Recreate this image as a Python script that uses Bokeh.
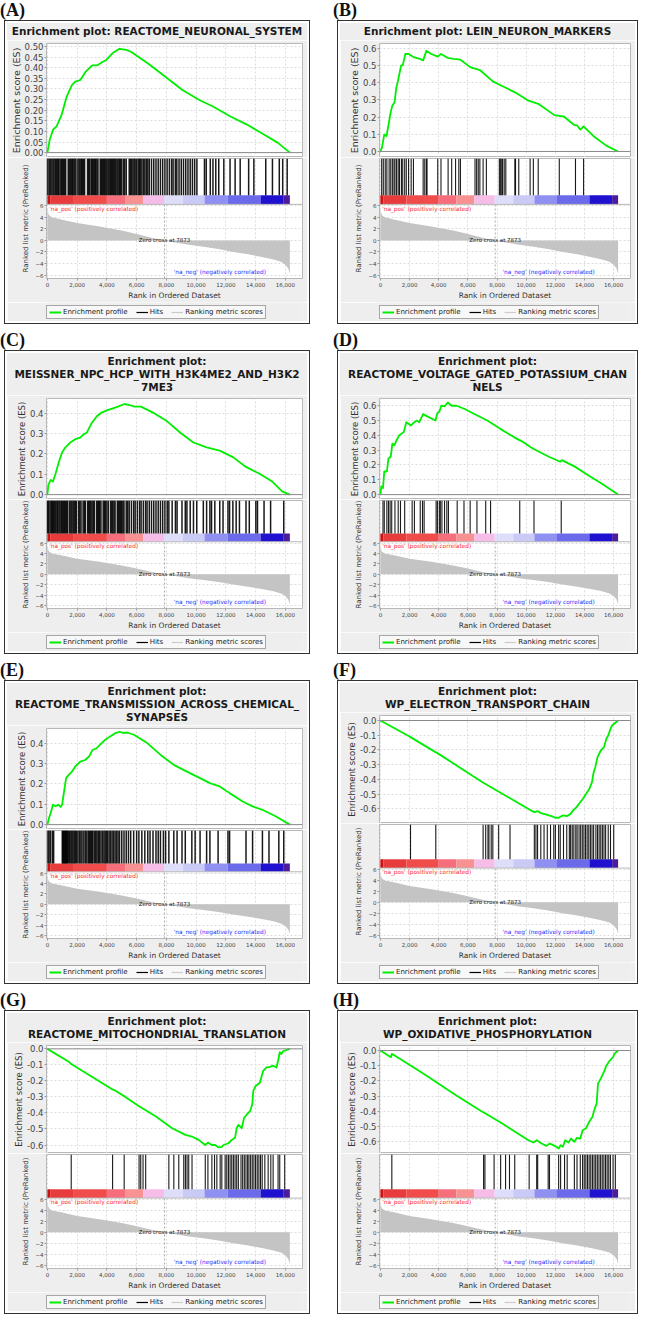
from bokeh.plotting import figure
from bokeh.models import (Range1d, FixedTicker, SingleIntervalTicker, NumeralTickFormatter,
                          Span, Legend, LegendItem, Div)
from bokeh.layouts import column, row
from bokeh.core.properties import value
from bokeh.embed import file_html
from bokeh.resources import INLINE

# ------------------------------------------------------------------ data
N_GENES = 16300
ZERO_CROSS = 7873
x_ticks = [0, 2000, 4000, 6000, 8000, 10000, 12000, 14000, 16000]
rank_ticks = [-6, -4, -2, 0, 2, 4, 6]

# ranked list metric (same dataset for every panel)
rank_x = [0, 30, 100, 300, 1000, 2000, 3500, 5000, 6000, 7000, 7873, 8500, 9500, 10500,
          11500, 12500, 13500, 14500, 15200, 15700, 16000, 16200, 16300]
rank_y = [5.8, 5.0, 4.4, 4.0, 3.6, 3.0, 2.4, 1.7, 1.1, 0.45, 0.0, -0.3, -0.75, -1.1,
          -1.5, -2.0, -2.4, -2.9, -3.3, -3.7, -4.2, -4.9, -5.8]

# heat bar under the hits
cb_start = [0, 220, 1780, 4000, 5220, 6440, 7840, 9110, 10560, 12110, 14330, 15890]
cb_end = [220, 1780, 4000, 5220, 6440, 7840, 9110, 10560, 12110, 14330, 15890, 16300]
cb_color = ["#d01010", "#e83c3c", "#f04c4c", "#f66e7c", "#f89292", "#f6bde8",
            "#dedefa", "#cacaf6", "#9090f2", "#6a6aea", "#2010d0", "#4c1c9c"]

# ---- panel A
titles_a = ["Enrichment plot: REACTOME_NEURONAL_SYSTEM"]
es_a_x = [0, 160, 390, 617, 960, 1300, 1646, 1874, 2217, 2560, 3017, 3360, 3703, 3932, 4389,
          4846, 5303, 5646, 6789, 7932, 9075, 10218, 11133, 12276, 13419, 14562, 15476, 16300]
es_a_y = [0, 0.062, 0.109, 0.124, 0.179, 0.264, 0.318, 0.334, 0.342, 0.38, 0.411, 0.411, 0.427,
          0.435, 0.469, 0.489, 0.484, 0.474, 0.419, 0.357, 0.295, 0.248, 0.217, 0.171, 0.132,
          0.085, 0.047, 0]
hits_a = [30, 120, 200, 300, 380, 450, 540, 620, 700, 760, 850, 930, 1000, 1080, 1150, 1230,
          1400, 1480, 1560, 1640, 1700, 1780, 1850, 1920, 2050, 2130, 2200, 2280, 2350, 2430,
          2500, 2700, 2780, 2850, 2950, 3020, 3100, 3180, 3250, 3330, 3400, 3550, 3620, 3700,
          3780, 3850, 3930, 4000, 4080, 4150, 4230, 4300, 4380, 4450, 4530, 4600, 4680, 4750,
          4830, 4900, 4980, 5100, 5200, 5300, 5500, 5580, 5660, 5750, 5830, 5900, 6000, 6100,
          6180, 6250, 6350, 6450, 6550, 6650, 6750, 6850, 7000, 7150, 7300, 7450, 7600, 7750,
          7900, 8050, 8200, 8350, 8450, 8600, 8700, 8850, 9000, 9150, 9300, 9450, 9600, 9750,
          9900, 10050, 10560, 10680, 10950, 11130, 11320, 11520, 11860, 12280, 12620, 12960,
          13530, 13880, 14680, 15130, 15590, 15820, 16120]

# ---- panel B
titles_b = ["Enrichment plot: LEIN_NEURON_MARKERS"]
es_b_x = [0, 111, 267, 422, 600, 711, 822, 978, 1089, 1200, 1311, 1422, 1533, 1711, 1933, 2267,
          2711, 2933, 3155, 3489, 3933, 4156, 4600, 5044, 5489, 6156, 6822, 7711, 8378, 9267,
          10156, 10822, 11933, 12600, 13267, 13489, 13711, 13933, 14600, 15489, 16300]
es_b_y = [0, 0.024, 0.099, 0.09, 0.174, 0.23, 0.267, 0.286, 0.37, 0.407, 0.454, 0.5, 0.5, 0.566,
          0.566, 0.548, 0.538, 0.529, 0.585, 0.566, 0.551, 0.566, 0.544, 0.538, 0.533, 0.49,
          0.473, 0.407, 0.379, 0.342, 0.295, 0.277, 0.211, 0.202, 0.155, 0.151, 0.127, 0.146,
          0.09, 0.034, 0]
hits_b = [89, 200, 333, 444, 600, 711, 822, 933, 1000, 1111, 1222, 1311, 1444, 1533, 1667, 1778,
          1933, 2111, 2267, 2933, 3044, 3156, 3200, 3933, 4156, 4644, 4889, 5156, 5378, 5489,
          6489, 6600, 6711, 6822, 7044, 7267, 8156, 8222, 8289, 8378, 8489, 8600, 9222, 9267,
          9489, 10267, 10489, 10822, 12267, 13378, 13933]

# ---- panel C
titles_c = ["Enrichment plot:", "MEISSNER_NPC_HCP_WITH_H3K4ME2_AND_H3K2", "7ME3"]
es_c_x = [0, 66, 221, 375, 552, 772, 993, 1214, 1545, 1876, 2207, 2428, 2648, 2980, 3311, 3642,
          4083, 4414, 4745, 5186, 5517, 5849, 6290, 7173, 8056, 8938, 9821, 10704, 11587,
          12469, 13352, 14234, 15117, 15780, 16300]
es_c_y = [0, 0.048, 0.072, 0.064, 0.104, 0.16, 0.208, 0.232, 0.256, 0.272, 0.28, 0.296, 0.304,
          0.352, 0.384, 0.403, 0.416, 0.424, 0.432, 0.445, 0.44, 0.432, 0.432, 0.4, 0.36, 0.304,
          0.256, 0.232, 0.216, 0.184, 0.136, 0.104, 0.064, 0.016, 0]
hits_c = [20, 90, 180, 260, 330, 400, 470, 560, 640, 700, 780, 850, 930, 1000, 1080, 1150, 1220,
          1300, 1370, 1500, 1580, 1650, 1730, 1800, 1880, 1950, 2100, 2180, 2260, 2400, 2480,
          2550, 2700, 2780, 2850, 2920, 3000, 3080, 3150, 3300, 3380, 3450, 3520, 3600, 3750,
          3830, 3900, 4000, 4100, 4250, 4330, 4400, 4480, 4550, 4700, 4780, 4850, 4930, 5000,
          5080, 5150, 5300, 5400, 5500, 5650, 5800, 5900, 6050, 6200, 6300, 6450, 6600, 6700,
          6850, 7000, 7150, 7300, 7450, 7600, 7750, 7900, 8056, 8166, 8387, 8607, 8718, 9049,
          9270, 9380, 9601, 9821, 10042, 10483, 10704, 10925, 11035, 11256, 11587, 11808,
          12139, 12249, 12469, 12690, 12911, 13352, 13573, 14014, 14124, 14565, 15006, 15890]

# ---- panel D
titles_d = ["Enrichment plot:", "REACTOME_VOLTAGE_GATED_POTASSIUM_CHAN", "NELS"]
es_d_x = [0, 67, 178, 267, 444, 556, 711, 822, 956, 1111, 1289, 1444, 1600, 1778, 2111, 2267,
          2489, 2667, 2933, 3111, 3778, 3911, 4044, 4178, 4400, 4622, 4889, 5222, 5778, 6444,
          7333, 8222, 9333, 9778, 10444, 11556, 12333, 12444, 13333, 14222, 15111, 16300]
es_d_y = [0, 0.056, 0.044, 0.156, 0.156, 0.244, 0.256, 0.344, 0.333, 0.367, 0.4, 0.411, 0.422,
          0.489, 0.467, 0.484, 0.5, 0.489, 0.544, 0.533, 0.5, 0.551, 0.56, 0.6, 0.596, 0.622,
          0.6, 0.6, 0.578, 0.544, 0.5, 0.444, 0.378, 0.356, 0.311, 0.256, 0.222, 0.233, 0.189,
          0.133, 0.078, 0]
hits_d = [178, 267, 444, 556, 667, 778, 1000, 1222, 1378, 1667, 2178, 2333, 2733, 2889, 3000,
          3822, 3911, 4044, 4111, 4222, 4400, 4556, 4667, 5267, 5733, 6156, 6622, 7222, 7556,
          9556, 10533, 12400]

# ---- panel E
titles_e = ["Enrichment plot:", "REACTOME_TRANSMISSION_ACROSS_CHEMICAL_", "SYNAPSES"]
es_e_x = [0, 110, 221, 375, 552, 728, 883, 993, 1104, 1258, 1435, 1655, 1876, 2207, 2538, 2803,
          3024, 3311, 3531, 3862, 4193, 4524, 4855, 5076, 5407, 5849, 6731, 7614, 8497, 9380,
          10263, 10925, 11587, 12249, 13132, 13794, 14456, 15339, 16300]
es_e_y = [0, 0.033, 0.057, 0.098, 0.09, 0.098, 0.087, 0.098, 0.155, 0.229, 0.245, 0.261, 0.286,
          0.31, 0.318, 0.335, 0.367, 0.376, 0.392, 0.416, 0.433, 0.449, 0.457, 0.452, 0.452,
          0.441, 0.4, 0.343, 0.294, 0.261, 0.229, 0.204, 0.188, 0.155, 0.114, 0.09, 0.073,
          0.041, 0]
hits_e = [40, 110, 200, 330, 420, 1000, 1050, 1100, 1150, 1200, 1250, 1300, 1350, 1420, 1500,
          1580, 1650, 1720, 1800, 1870, 1950, 2050, 2150, 2250, 2330, 2450, 2550, 2650, 2750,
          2830, 2900, 2980, 3050, 3150, 3250, 3330, 3420, 3500, 3600, 3700, 3800, 3880, 3960,
          4050, 4150, 4250, 4350, 4450, 4550, 4650, 4750, 4850, 5000, 5150, 5300, 5450, 5600,
          5800, 6000, 6150, 6350, 6550, 6750, 6900, 7100, 7300, 7450, 7600, 7800, 7945, 8166,
          8497, 8718, 9049, 9270, 9711, 9932, 10263, 10704, 10925, 11476, 12139, 12249, 13352,
          13794, 14456, 14897, 15559, 15890]

# ---- panel F
titles_f = ["Enrichment plot:", "WP_ELECTRON_TRANSPORT_CHAIN"]
es_f_x = [0, 2000, 2067, 3778, 3889, 7000, 8778, 10333, 10556, 10778, 11000, 11333, 11556,
          11778, 12000, 12222, 12378, 12556, 12778, 13000, 13222, 13444, 13667, 13889, 14111,
          14333, 14511, 14600, 14733, 14889, 15111, 15333, 15489, 15622, 15778, 15889, 16300]
es_f_y = [0, -0.109, -0.113, -0.215, -0.22, -0.419, -0.521, -0.611, -0.623, -0.616, -0.629,
          -0.638, -0.645, -0.652, -0.661, -0.661, -0.652, -0.645, -0.65, -0.638, -0.611, -0.589,
          -0.561, -0.532, -0.498, -0.464, -0.419, -0.362, -0.317, -0.249, -0.204, -0.181,
          -0.125, -0.102, -0.057, -0.034, 0]
hits_f = [2067, 3800, 7044, 7222, 7378, 7444, 7600, 7711, 8111, 8889, 10556, 10667, 10778,
          11000, 11222, 11444, 11667, 11889, 12000, 12222, 12333, 12556, 12778, 12956, 13044,
          13156, 13267, 13400, 13489, 13622, 13733, 13844, 13956, 14067, 14178, 14289, 14400,
          14511, 14622, 14778, 14889, 15000, 15111, 15222, 15333, 15444, 15622, 15778, 16000]

# ---- panel G
titles_g = ["Enrichment plot:", "REACTOME_MITOCHONDRIAL_TRANSLATION"]
es_g_x = [0, 1491, 1602, 4383, 4495, 5162, 6163, 7276, 8388, 9278, 9723, 10168, 10613, 10791,
          11058, 11281, 11503, 11726, 11837, 12171, 12393, 12616, 12727, 12838, 13061, 13217,
          13395, 13617, 13773, 13840, 13995, 14285, 14507, 14730, 14952, 15175, 15397, 15508,
          15620, 15731, 15842, 16300]
es_g_y = [0, -0.084, -0.095, -0.253, -0.257, -0.295, -0.358, -0.421, -0.495, -0.537, -0.547,
          -0.568, -0.6, -0.585, -0.6, -0.6, -0.615, -0.611, -0.6, -0.589, -0.568, -0.554,
          -0.495, -0.474, -0.495, -0.432, -0.411, -0.389, -0.347, -0.263, -0.232, -0.211,
          -0.137, -0.116, -0.112, -0.105, -0.116, -0.074, -0.021, -0.032, -0.015, 0]
hits_g = [1602, 4383, 5162, 6163, 6275, 6430, 6608, 8166, 8500, 8833, 9167, 9278, 9390, 9501,
          9723, 10613, 10791, 11058, 11236, 11392, 11615, 11726, 11949, 12060, 12171, 12282,
          12393, 12505, 12616, 12727, 12838, 13016, 13128, 13239, 13350, 13461, 13550, 13662,
          13773, 13884, 13995, 14107, 14218, 14329, 14440, 14618, 14841, 15019, 15175, 15508,
          15620, 15953]

# ---- panel H
titles_h = ["Enrichment plot:", "WP_OXIDATIVE_PHOSPHORYLATION"]
es_h_x = [0, 719, 787, 899, 2966, 5213, 7011, 7236, 8359, 9258, 10157, 10494, 10719, 11055,
          11392, 11617, 11842, 12066, 12224, 12358, 12516, 12673, 12898, 13078, 13302, 13482,
          13707, 13864, 14089, 14313, 14538, 14695, 14830, 14920, 15099, 15324, 15504, 15729,
          15953, 16043, 16300]
es_h_y = [0, -0.044, -0.022, -0.028, -0.153, -0.295, -0.404, -0.415, -0.48, -0.535, -0.59,
          -0.605, -0.59, -0.611, -0.627, -0.611, -0.622, -0.633, -0.644, -0.622, -0.633, -0.59,
          -0.605, -0.579, -0.6, -0.574, -0.579, -0.524, -0.513, -0.469, -0.437, -0.382, -0.349,
          -0.218, -0.186, -0.142, -0.098, -0.066, -0.044, -0.022, 0]
hits_h = [786, 7078, 7168, 7797, 8246, 8584, 8853, 9213, 10201, 10718, 10786, 11505, 11595,
          12224, 12358, 12628, 12808, 13302, 13482, 13707, 13864, 13977, 14089, 14202, 14314,
          14426, 14539, 14651, 14763, 14875, 14988, 15100, 15212, 15325, 15437, 15549, 15661,
          15774, 15953, 16110]

# ------------------------------------------------------------------ style / layout
FONT = "DejaVu Sans"
GREEN = "#00ee00"
BG = "#eeeeee"
OUTLINE = "#b8b8b8"
GRID = "#dcdcdc"
X_LO, X_HI = -60, 17150
RANK_LO, RANK_HI = -6.6, 6.25
CB_TOP = 7.85
HITS_TOP = 14.2
BORDER_L, BORDER_R = 39, 5
NAN = float("nan")
# per title-line count: (title block, ES frame, rank frame, ES label size)
SIZES = {1: (17, 114, 124, "9.5px"), 2: (29, 108, 118, "8.5px"), 3: (42, 101, 112, "8.5px")}


def style_axis(ax, tick_size, label_size, standoff=1):
    ax.axis_line_color = None
    ax.major_tick_in = 0
    ax.major_tick_out = 2
    ax.major_tick_line_color = "#999999"
    ax.minor_tick_line_color = None
    ax.major_label_text_font = FONT
    ax.major_label_text_font_size = tick_size
    ax.major_label_text_color = "#444444"
    ax.major_label_standoff = 1
    ax.axis_label_text_font = FONT
    ax.axis_label_text_font_size = label_size
    ax.axis_label_text_font_style = "normal"
    ax.axis_label_text_color = "#333333"
    ax.axis_label_standoff = standoff


def style_grid(p):
    p.grid.grid_line_color = GRID
    p.grid.grid_line_dash = "2 2"


def make_panel(letter, titles, es_x, es_y, hits, es_range, es_tick, es_fmt, W, hit_w):
    th, es_frame, rank_frame, es_lab = SIZES[len(titles)]
    tdiv = Div(text=("<div style=\"width:%dpx;height:%dpx;background:%s;text-align:center;"
                     "font-family:'DejaVu Sans';font-weight:bold;font-size:10.5px;"
                     "line-height:13px;color:#1a1a1a;padding-top:2px;box-sizing:border-box;"
                     "white-space:nowrap;overflow:visible\">%s</div>")
               % (W, th, BG, "<br>".join(titles)), width=W, height=th, margin=0)

    xr = Range1d(X_LO, X_HI)
    es = figure(width=W, height=es_frame + 3, x_range=xr, y_range=Range1d(*es_range),
                x_axis_location=None, toolbar_location=None, output_backend="svg",
                min_border_left=BORDER_L, min_border_right=BORDER_R, min_border_top=3,
                min_border_bottom=0, background_fill_color="white", border_fill_color=BG,
                outline_line_color=OUTLINE)
    es.yaxis.ticker = SingleIntervalTicker(interval=es_tick, num_minor_ticks=0)
    es.yaxis.formatter = NumeralTickFormatter(format=es_fmt)
    es.yaxis.axis_label = "Enrichment score (ES)"
    style_axis(es.yaxis[0], "8.5px", es_lab, standoff=0)
    es.xgrid.ticker = FixedTicker(ticks=x_ticks)
    style_grid(es)
    es.add_layout(Span(location=0, dimension="width", line_color="#8a8a8a", line_width=1))
    es.line(es_x, es_y, line_color=GREEN, line_width=1.8, line_join="round")

    rk = figure(width=W, height=rank_frame + 21, x_range=xr,
                y_range=Range1d(RANK_LO, HITS_TOP), toolbar_location=None,
                output_backend="svg", min_border_left=BORDER_L, min_border_right=BORDER_R,
                min_border_top=1, min_border_bottom=0, background_fill_color="white",
                border_fill_color=BG, outline_line_color=OUTLINE)
    rk.yaxis.ticker = FixedTicker(ticks=rank_ticks)
    rk.yaxis.axis_label = "Ranked list metric (PreRanked)"
    style_axis(rk.yaxis[0], "5.5px", "7px", standoff=2)
    rk.xaxis.ticker = FixedTicker(ticks=x_ticks)
    rk.xaxis.formatter = NumeralTickFormatter(format="0,0")
    rk.xaxis.axis_label = "Rank in Ordered Dataset"
    style_axis(rk.xaxis[0], "5.5px", "7.5px", standoff=1)
    style_grid(rk)

    rk.varea(x=rank_x, y1=0, y2=rank_y, fill_color="#c4c4c4")
    rk.quad(left=cb_start, right=cb_end, bottom=RANK_HI, top=CB_TOP, fill_color=cb_color,
            line_color=None)
    rk.segment(x0=hits, y0=CB_TOP, x1=hits, y1=HITS_TOP, line_color="black", line_width=hit_w,
               line_alpha=0.9)
    rk.add_layout(Span(location=RANK_HI, dimension="width", line_color=OUTLINE, line_width=1))
    rk.segment(x0=[ZERO_CROSS], y0=[RANK_LO], x1=[ZERO_CROSS], y1=[RANK_HI],
               line_color="#aaaaaa", line_dash="2 2", line_width=1)
    rk.text(x=[ZERO_CROSS], y=[0], text=[f"Zero cross at {ZERO_CROSS}"], text_align="center",
            text_baseline="middle", text_font=value(FONT), text_font_size="5.5px",
            text_color="#222222")
    rk.text(x=[120], y=[5.5], text=["'na_pos' (positively correlated)"], text_align="left",
            text_baseline="middle", text_font=value(FONT), text_font_size="5.8px",
            text_color="#ff2a2a")
    rk.text(x=[14700], y=[-5.4], text=["'na_neg' (negatively correlated)"], text_align="right",
            text_baseline="middle", text_font=value(FONT), text_font_size="5.8px",
            text_color="#2a2aff")

    lf = figure(width=W, height=19, x_range=Range1d(0, 1), y_range=Range1d(0, 1),
                min_border_left=BORDER_L, min_border_right=BORDER_R, min_border_top=0,
                min_border_bottom=0, x_axis_location=None, y_axis_location=None,
                toolbar_location=None, output_backend="svg", outline_line_color=None,
                background_fill_color=BG, border_fill_color=BG)
    lf.grid.visible = False
    r_prof = lf.line(x=[NAN], y=[NAN], line_color=GREEN, line_width=2)
    r_hit = lf.line(x=[NAN], y=[NAN], line_color="black", line_width=1.2)
    r_rms = lf.line(x=[NAN], y=[NAN], line_color="#cccccc", line_width=1.2)
    legend = Legend(items=[LegendItem(label="Enrichment profile", renderers=[r_prof]),
                           LegendItem(label="Hits", renderers=[r_hit]),
                           LegendItem(label="Ranking metric scores", renderers=[r_rms])],
                    orientation="horizontal", location="left",
                    label_text_font=FONT, label_text_font_size="7px", label_text_color="#222222",
                    glyph_width=12, glyph_height=8, label_height=8, label_width=10,
                    label_standoff=2, spacing=8, padding=2, margin=0,
                    border_line_color="#555555", border_line_width=1,
                    background_fill_color="#f8f8f8", background_fill_alpha=1)
    lf.add_layout(legend)

    label = Div(text=f'<span style="font-family:\'Liberation Serif\',serif;font-size:18px;'
                     f'font-weight:bold;color:#111;line-height:20px">({letter})</span>',
                width=60, height=20, margin=0)
    box = column(tdiv, es, rk, lf, spacing=0,
                 styles={"border": "1.5px solid #333333", "padding": "2px",
                         "background-color": "white", "margin-left": "4px"})
    return column(label, box, spacing=0)


WL, WR = 300, 295
pA = make_panel("A", titles_a, es_a_x, es_a_y, hits_a, (-0.023, 0.514), 0.05, "0.00", WL, 1.5)
pB = make_panel("B", titles_b, es_b_x, es_b_y, hits_b, (-0.035, 0.627), 0.1, "0.0", WR, 1.1)
pC = make_panel("C", titles_c, es_c_x, es_c_y, hits_c, (-0.024, 0.472), 0.1, "0.0", WL, 1.5)
pD = make_panel("D", titles_d, es_d_x, es_d_y, hits_d, (-0.033, 0.649), 0.1, "0.0", WR, 1.1)
pE = make_panel("E", titles_e, es_e_x, es_e_y, hits_e, (-0.024, 0.473), 0.1, "0.0", WL, 1.5)
pF = make_panel("F", titles_f, es_f_x, es_f_y, hits_f, (-0.70, 0.034), 0.1, "0.0", WR, 1.1)
pG = make_panel("G", titles_g, es_g_x, es_g_y, hits_g, (-0.653, 0.021), 0.1, "0.0", WL, 1.1)
pH = make_panel("H", titles_h, es_h_x, es_h_y, hits_h, (-0.677, 0.033), 0.1, "0.0", WR, 1.1)

layout = row(column(pA, pC, pE, pG, spacing=6), column(pB, pD, pF, pH, spacing=6), spacing=23)

open("out.html", "w").write(file_html(layout, INLINE))
